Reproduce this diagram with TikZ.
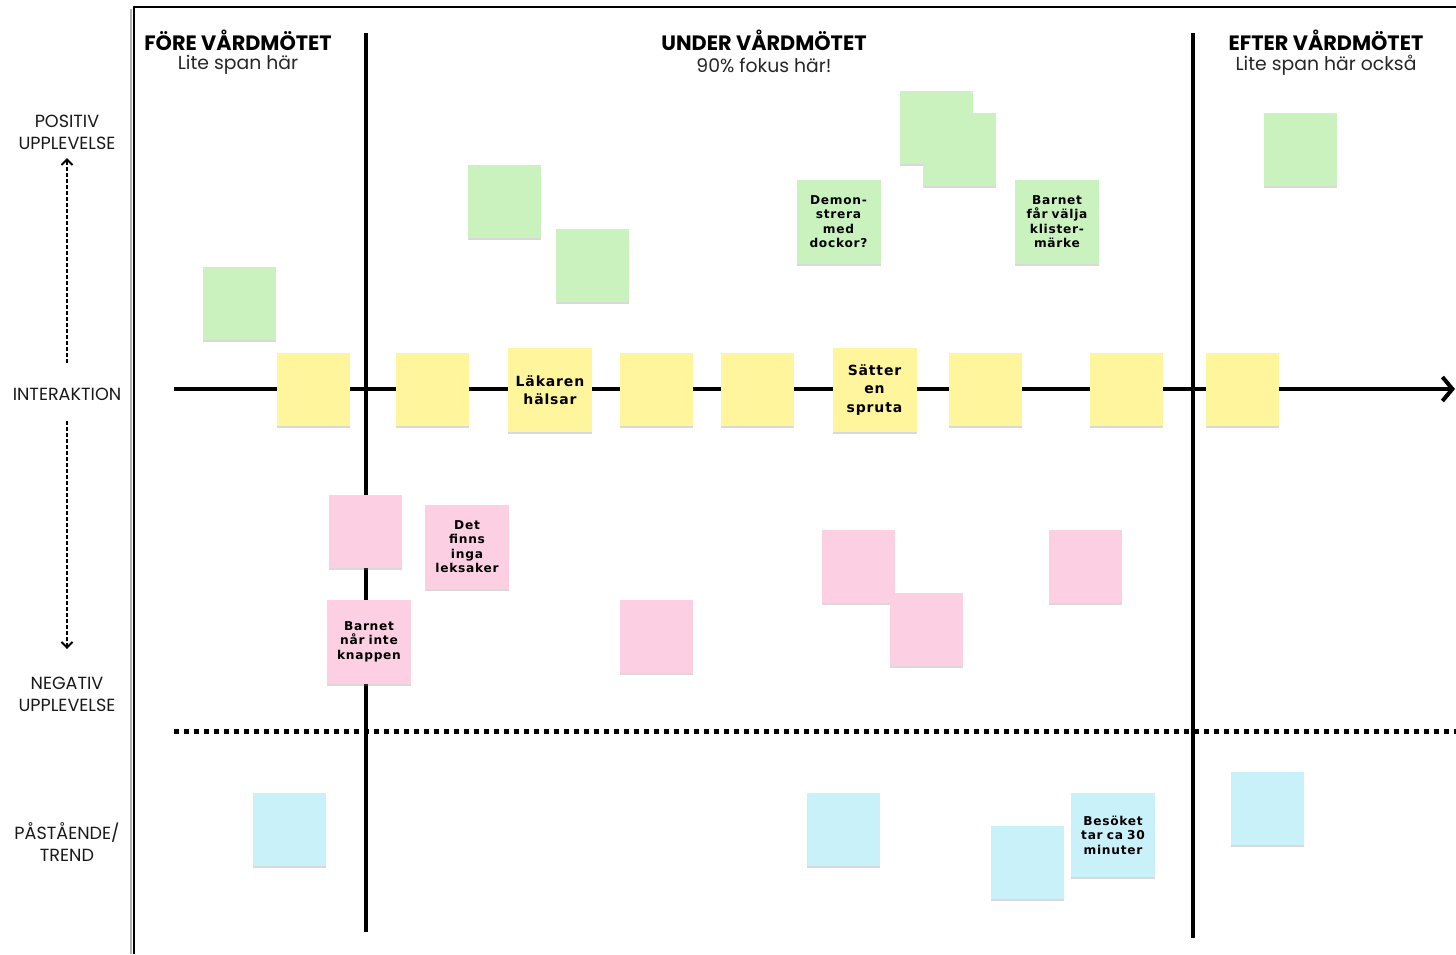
\documentclass[tikz,border=0pt]{standalone}
\usepackage{fontspec}
\setmainfont{Poppins}
\newfontfamily\notefont[LetterSpace=6]{DejaVu Sans}
\usetikzlibrary{arrows.meta,shadows}
\definecolor{ngreen}{HTML}{C9F2BF}
\definecolor{nyellow}{HTML}{FFF59C}
\definecolor{npink}{HTML}{FCD0E2}
\definecolor{nblue}{HTML}{C9F1FA}
\tikzset{
  note/.style={inner sep=0pt, minimum width=36.5pt, minimum height=36.5pt,
    drop shadow={opacity=0.3, shadow xshift=0.2pt, shadow yshift=-1pt}},
  bignote/.style={note, minimum width=42pt, minimum height=42pt, text width=40pt, align=center,
    font=\notefont\bfseries\fontsize{6.1}{7.25}\selectfont},
  ybignote/.style={bignote, font=\notefont\bfseries\fontsize{7}{9.3}\selectfont},
  gn/.style={note, fill=ngreen}, yn/.style={note, fill=nyellow},
  pn/.style={note, fill=npink}, bn/.style={note, fill=nblue},
  head/.style={font=\fontsize{10.4}{12}\selectfont\bfseries, align=center},
  sub/.style={font=\fontsize{9.4}{11}\selectfont, text=black!85},
  lab/.style={font=\fontsize{8.8}{11}\selectfont, align=center, text=black!90},
  thick line/.style={line width=2pt},
}
\begin{document}
\begin{tikzpicture}[x=0.5pt,y=-0.5pt]
\useasboundingbox (0,0) rectangle (1456,954);
% frame
\draw[black!30, line width=1.2pt] (131,9) -- (131,954);
\draw[black, line width=0.9pt] (134,954) -- (134,7) -- (1456,7);
% headers
\node[head] (h1) at (238,40) {FÖRE VÅRDMÖTET};
\node[sub] (s1) at (238,65) {Lite span här};
\node[head] (h2) at (764,40) {UNDER VÅRDMÖTET};
\node[sub] (s2) at (764,65) {90\% fokus här!};
\node[head] (h3) at (1326,40) {EFTER VÅRDMÖTET};
\node[sub] (s3) at (1326,65) {Lite span här också};
% left labels
\node[lab] (pos) at (67,132) {POSITIV\\UPPLEVELSE};
\node[lab] (int) at (67,394) {INTERAKTION};
\node[lab] (neg) at (67,694.5) {NEGATIV\\UPPLEVELSE};
\node[lab] (tr) at (67,842) {PÅSTÅENDE/\\TREND};
\coordinate (up) at (67,158);
\coordinate (dn) at (67,649);
\draw[line width=0.8pt, dash pattern=on 1.6pt off 1.4pt, -{Straight Barb[length=2.8pt,width=5.5pt,line width=1pt]}] (int.north) ++(0,-18) -- (up);
\draw[line width=0.8pt, dash pattern=on 1.6pt off 1.4pt, -{Straight Barb[length=2.8pt,width=5.5pt,line width=1pt]}] (int.south) ++(0,14) -- (dn);
% structure lines
\coordinate (axL) at (174,389);
\coordinate (axR) at (1455,389);
\draw[thick line, -{Straight Barb[length=5pt,width=12pt,line width=2pt]}] (axL) -- (axR);
\coordinate (v1t) at (366,33); \coordinate (v1b) at (366,932);
\coordinate (v2t) at (1193,33); \coordinate (v2b) at (1193,938);
\draw[thick line] (v1t) -- (v1b);
\draw[thick line] (v2t) -- (v2b);
\coordinate (dL) at (174,731); \coordinate (dR) at (1456,731);
\draw[line width=2.5pt, dash pattern=on 2.5pt off 2.5pt] (dL) -- (dR);
% green notes
\node[gn] (g1) at (239.5,303.5) {};
\node[gn] (g2) at (504.5,201.5) {};
\node[gn] (g3) at (592.5,265) {};
\node[gn] (g4) at (936,127) {};
\node[gn] (g5) at (959,149) {};
\node[gn] (g6) at (1300.5,149) {};
\node[bignote, fill=ngreen] (gt1) at (838.5,221.5) {Demon-\\strera\\med\\dockor?};
\node[bignote, fill=ngreen] (gt2) at (1057,221.5) {Barnet\\får välja\\klister-\\märke};
% yellow notes
\node[yn] (y1) at (313.5,389.5) {};
\node[yn] (y2) at (432.5,389.5) {};
\node[ybignote, fill=nyellow] (y3) at (550,390) {Läkaren\\hälsar};
\node[yn] (y4) at (656.5,389.5) {};
\node[yn] (y5) at (757.5,389.5) {};
\node[ybignote, fill=nyellow] (y6) at (874.5,390) {Sätter\\en\\spruta};
\node[yn] (y7) at (985.5,389.5) {};
\node[yn] (y8) at (1126.5,389.5) {};
\node[yn] (y9) at (1242.5,389.5) {};
% pink notes
\node[pn] (p1) at (365.5,531.5) {};
\node[bignote, fill=npink] (p2) at (467,546.5) {Det\\finns\\inga\\leksaker};
\node[bignote, fill=npink] (p3) at (369,641.5) {Barnet\\når inte\\knappen};
\node[pn] (p4) at (656.5,636) {};
\node[pn] (p5) at (858.5,566) {};
\node[pn] (p6) at (926.5,629) {};
\node[pn] (p7) at (1085.5,566) {};
% blue notes
\node[bn] (b1) at (289.5,829) {};
\node[bn] (b2) at (843.5,829) {};
\node[bn] (b3) at (1027.5,862) {};
\node[bignote, fill=nblue] (b4) at (1113,835) {Besöket\\tar ca 30\\minuter};
\node[bn] (b5) at (1267.5,808) {};
\end{tikzpicture}
\end{document}
